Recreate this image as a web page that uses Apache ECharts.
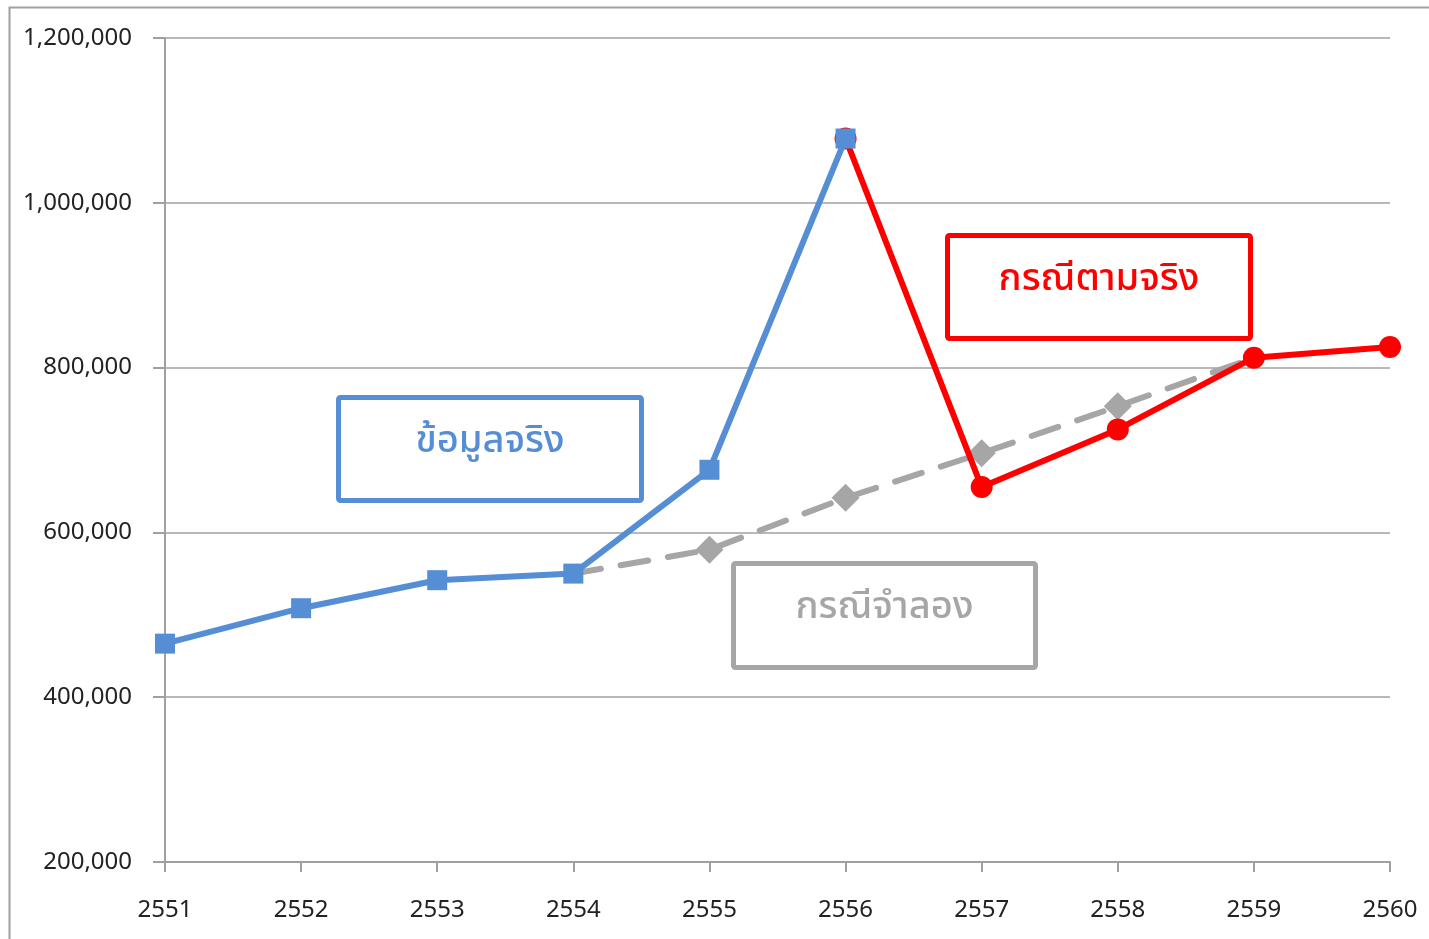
<!DOCTYPE html>
<html><head><meta charset="utf-8">
<script src="https://cdn.jsdelivr.net/npm/echarts@6/dist/echarts.min.js"></script>
<style>html,body{margin:0;padding:0;background:#fff}#c{width:1429px;height:939px}</style>
</head><body><div id="c"></div>
<script>
const years = ['2551','2552','2553','2554','2555','2556','2557','2558','2559','2560'];
const actual = [465000, 508000, 542000, 550000, 676000, 1078000, null, null, null, null];
const realCase = [null, null, null, null, null, 1078000, 655000, 725000, 812000, 825000];
const simCase = [null, null, null, 550000, 579000, 642000, 696000, 753000, 812000, null];
const yTicks = {min: 200000, max: 1200000, interval: 200000};
const labels = {actual: 'ข้อมูลจริง', real: 'กรณีตามจริง', sim: 'กรณีจำลอง'};

const FONT = '"Noto Sans", "Noto Sans Thai", "DejaVu Sans", sans-serif';
const chart = echarts.init(document.getElementById('c'));
function box(x, y, w, h, color, text) {
  return {
    type: 'group', left: x, top: y, z: 50,
    children: [
      {type: 'rect', shape: {x: 0, y: 0, width: w, height: h, r: 2},
       style: {fill: '#fff', stroke: color, lineWidth: 5}},
      {type: 'text', x: w / 2, y: h / 2 - 8,
       style: {text: text, fill: color, font: '500 38px ' + FONT, textAlign: 'center', textVerticalAlign: 'middle'}}
    ]
  };
}
chart.setOption({
  animation: false,
  backgroundColor: '#fff',
  grid: {left: 165, right: 39, top: 38, bottom: 77},
  xAxis: {
    type: 'category', data: years, boundaryGap: false,
    axisLine: {lineStyle: {color: '#a0a0a0', width: 2}},
    axisTick: {show: true, length: 10, lineStyle: {color: '#a0a0a0', width: 2}},
    axisLabel: {color: '#222', fontSize: 24, fontFamily: FONT, margin: 36}
  },
  yAxis: {
    type: 'value', min: yTicks.min, max: yTicks.max, interval: yTicks.interval,
    axisLine: {show: true, lineStyle: {color: '#a0a0a0', width: 2}},
    axisTick: {show: true, length: 12, lineStyle: {color: '#a0a0a0', width: 2}},
    splitLine: {lineStyle: {color: '#a0a0a0', width: 1.5}},
    axisLabel: {color: '#222', fontSize: 24, fontFamily: FONT, margin: 33,
      formatter: v => v.toLocaleString('en-US')}
  },
  graphic: [
    {type: 'rect', left: 7, top: 5, z: 100, silent: true,
     shape: {width: 1500, height: 1000}, style: {fill: 'none', stroke: '#a0a0a0', lineWidth: 2}},
    box(336, 395, 303, 103, '#558ed5', labels.actual),
    box(945, 233, 303, 103, '#ff0000', labels.real),
    box(731, 561, 302, 104, '#a6a6a6', labels.sim)
  ],
  series: [
    {name: labels.sim, type: 'line', data: simCase, z: 2,
     symbol: 'diamond', showAllSymbol: true,
     symbolSize: (v, p) => (v === actual[p.dataIndex] || v === realCase[p.dataIndex]) ? 0 : 28,
     itemStyle: {color: '#a6a6a6'},
     lineStyle: {color: '#a6a6a6', width: 6, type: [28, 20], cap: 'round'}},
    {name: labels.real, type: 'line', data: realCase, z: 3,
     symbol: 'circle', symbolSize: 22,
     itemStyle: {color: '#ff0000'},
     lineStyle: {color: '#ff0000', width: 6}},
    {name: labels.actual, type: 'line', data: actual, z: 4,
     symbol: 'rect', symbolSize: 20,
     itemStyle: {color: '#558ed5'},
     lineStyle: {color: '#558ed5', width: 6}}
  ]
});
</script></body></html>
